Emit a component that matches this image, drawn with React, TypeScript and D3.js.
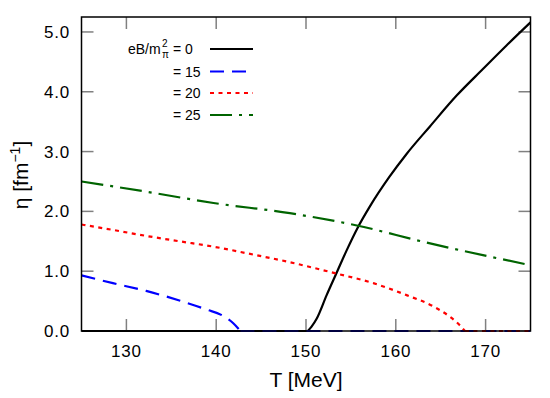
import React from "react";
import * as d3 from "d3";

const T0 = [125, 150.2, 150.6, 151.2, 152.3, 153.4, 154.5, 155.8, 157.1, 159.3, 161.2, 163.8, 166.8, 169.7, 172.3, 175];
const eta0 = [0, 0, 0.07, 0.21, 0.6, 0.97, 1.34, 1.74, 2.08, 2.58, 2.96, 3.42, 3.94, 4.38, 4.77, 5.16];

const T15 = [125, 128.5, 132.2, 135.9, 138.9, 140.8, 141.9, 142.7, 175];
const eta15 = [0.93, 0.8, 0.67, 0.51, 0.36, 0.25, 0.13, 0, 0];

const T20 = [125, 128.5, 132.2, 135.9, 139.7, 143.4, 148.2, 153.4, 157.5, 161.2, 164.2, 166.0, 167.1, 167.7, 175];
const eta20 = [1.78, 1.69, 1.59, 1.5, 1.41, 1.3, 1.15, 0.96, 0.8, 0.6, 0.41, 0.24, 0.1, 0, 0];

const T25 = [125, 132.2, 139.7, 148.2, 155.8, 163.1, 175];
const eta25 = [2.5, 2.33, 2.14, 1.97, 1.76, 1.49, 1.1];

const xTicks = [130, 140, 150, 160, 170];
const yTicks = [0, 1, 2, 3, 4, 5];
const legendLabels = ["= 0", "= 15", "= 20", "= 25"];

const series = [
  { T: T0, eta: eta0, color: "#000000", dash: "none", width: 2.2 },
  { T: T15, eta: eta15, color: "#0000ff", dash: "14,8", width: 2.2 },
  { T: T20, eta: eta20, color: "#ff0000", dash: "4,4.5", width: 2.2 },
  { T: T25, eta: eta25, color: "#006400", dash: "22,7,3,7", width: 2.2 },
];

type P = [number, number];

// split into flat zero runs (straight) and curved runs
function splitRuns(pts: P[]) {
  const runs: { flat: boolean; pts: P[] }[] = [];
  for (let i = 0; i < pts.length - 1; i++) {
    const flat = pts[i][1] === 0 && pts[i + 1][1] === 0;
    const last = runs[runs.length - 1];
    if (last && last.flat === flat) last.pts.push(pts[i + 1]);
    else runs.push({ flat, pts: [pts[i], pts[i + 1]] });
  }
  return runs;
}

export default function App() {
  const W = 550, H = 398;
  const L = 81.5, R = 530.5, Tp = 17, B = 331;
  const x = d3.scaleLinear().domain([125, 175]).range([L, R]);
  const y = d3.scaleLinear().domain([0, 5.25]).range([B, Tp]);
  const font = "'Liberation Sans', Arial, Helvetica, sans-serif";
  const tickLen = 12;

  const curve = d3
    .line<P>()
    .x((d) => x(d[0]))
    .y((d) => y(d[1]))
    .curve(d3.curveMonotoneX);
  const straight = d3
    .line<P>()
    .x((d) => x(d[0]))
    .y((d) => y(d[1]));

  const pathFor = (T: number[], eta: number[]) => {
    const pts = T.map((t, j) => [t, eta[j]] as P);
    return splitRuns(pts)
      .map((r) => (r.flat ? straight(r.pts) : curve(r.pts)) || "")
      .join("");
  };

  const legendY = [49, 71.5, 93, 115];

  return (
    <svg width={W} height={H} style={{ position: "absolute", left: 0, top: 0, background: "#fff" }} fontFamily={font}>
      <defs>
        <clipPath id="plot">
          <rect x={L} y={Tp} width={R - L} height={B - Tp + 1} />
        </clipPath>
      </defs>
      {/* ticks */}
      {xTicks.map((t) => (
        <g key={"xt" + t} stroke="#808080" strokeWidth={1.5}>
          <line x1={x(t)} x2={x(t)} y1={B} y2={B - tickLen} />
          <line x1={x(t)} x2={x(t)} y1={Tp} y2={Tp + tickLen} />
        </g>
      ))}
      {yTicks.map((t) => (
        <g key={"yt" + t} stroke="#808080" strokeWidth={1.5}>
          <line x1={L} x2={L + tickLen} y1={y(t)} y2={y(t)} />
          <line x1={R} x2={R - tickLen} y1={y(t)} y2={y(t)} />
        </g>
      ))}
      {/* curves */}
      <g clipPath="url(#plot)">
        {series.map((s, i) => (
          <path
            key={i}
            d={pathFor(s.T, s.eta)}
            fill="none"
            stroke={s.color}
            strokeWidth={s.width}
            strokeDasharray={s.dash}
          />
        ))}
      </g>
      {/* frame */}
      <rect x={L} y={Tp} width={R - L} height={B - Tp} fill="none" stroke="#000" strokeWidth={1.5} />
      {/* tick labels */}
      {xTicks.map((t) => (
        <text key={"xl" + t} x={x(t)} y={357} textAnchor="middle" fontSize={17} letterSpacing={0.8} fill="#000">
          {t}
        </text>
      ))}
      {yTicks.map((t) => (
        <text key={"yl" + t} x={70} y={y(t) + 6} textAnchor="end" fontSize={17} letterSpacing={0.8} fill="#000">
          {t.toFixed(1)}
        </text>
      ))}
      {/* axis titles */}
      <text x={306} y={387} textAnchor="middle" fontSize={21} fill="#000">
        T [MeV]
      </text>
      <text transform="translate(28,175) rotate(-90)" textAnchor="middle" fontSize={21} fill="#000">
        η [fm<tspan dy={-8} fontSize={14}>−1</tspan>
        <tspan dy={8}>]</tspan>
      </text>
      {/* legend */}
      <text x={128} y={54} fontSize={14} fill="#000">eB/m</text>
      <text x={162} y={46.5} fontSize={10} fill="#000">2</text>
      <text x={162} y={58} fontSize={10} fill="#000">π</text>
      {legendLabels.map((lab, i) => (
        <g key={"lg" + i}>
          <text x={173} y={legendY[i] + 5} fontSize={14} fill="#000">
            {lab}
          </text>
          <line
            x1={210}
            x2={253}
            y1={legendY[i]}
            y2={legendY[i]}
            stroke={series[i].color}
            strokeWidth={series[i].width}
            strokeDasharray={series[i].dash}
          />
        </g>
      ))}
    </svg>
  );
}
